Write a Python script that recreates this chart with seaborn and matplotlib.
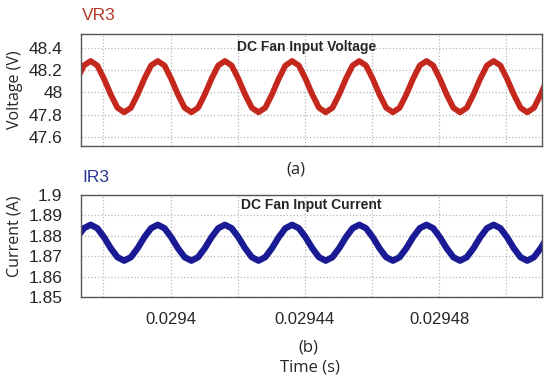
import matplotlib
matplotlib.use("Agg")
import matplotlib.pyplot as plt
import seaborn as sns
import pandas as pd
from matplotlib.ticker import MultipleLocator

# time samples (s)
time_s = [
    0.0293722, 0.0293742, 0.0293762, 0.0293782, 0.0293802, 0.0293822, 0.0293842, 0.0293862,
    0.0293882, 0.0293902, 0.0293922, 0.0293942, 0.0293962, 0.0293982, 0.0294002, 0.0294022,
    0.0294042, 0.0294062, 0.0294082, 0.0294102, 0.0294122, 0.0294142, 0.0294162, 0.0294182,
    0.0294202, 0.0294222, 0.0294242, 0.0294262, 0.0294282, 0.0294302, 0.0294322, 0.0294342,
    0.0294362, 0.0294382, 0.0294402, 0.0294422, 0.0294442, 0.0294462, 0.0294482, 0.0294502,
    0.0294522, 0.0294542, 0.0294562, 0.0294582, 0.0294602, 0.0294622, 0.0294642, 0.0294662,
    0.0294682, 0.0294702, 0.0294722, 0.0294742, 0.0294762, 0.0294782, 0.0294802, 0.0294822,
    0.0294842, 0.0294862, 0.0294882, 0.0294902, 0.0294922, 0.0294942, 0.0294962, 0.0294982,
    0.0295002, 0.0295022, 0.0295042, 0.0295062, 0.0295082, 0.0295102, 0.0295122,
]

# VR3 (V)
voltage = [
    48.12, 48.24,
    48.28, 48.24, 48.12, 47.98, 47.86, 47.82, 47.86, 47.98, 48.12, 48.24,
    48.28, 48.24, 48.12, 47.98, 47.86, 47.82, 47.86, 47.98, 48.12, 48.24,
    48.28, 48.24, 48.12, 47.98, 47.86, 47.82, 47.86, 47.98, 48.12, 48.24,
    48.28, 48.24, 48.12, 47.98, 47.86, 47.82, 47.86, 47.98, 48.12, 48.24,
    48.28, 48.24, 48.12, 47.98, 47.86, 47.82, 47.86, 47.98, 48.12, 48.24,
    48.28, 48.24, 48.12, 47.98, 47.86, 47.82, 47.86, 47.98, 48.12, 48.24,
    48.28, 48.24, 48.12, 47.98, 47.86, 47.82, 47.86, 47.98, 48.12,
]

# IR3 (A)
current = [
    1.8793, 1.8837,
    1.8854, 1.8837, 1.8793, 1.8739, 1.8695, 1.8678, 1.8695, 1.8739, 1.8793, 1.8837,
    1.8854, 1.8837, 1.8793, 1.8739, 1.8695, 1.8678, 1.8695, 1.8739, 1.8793, 1.8837,
    1.8854, 1.8837, 1.8793, 1.8739, 1.8695, 1.8678, 1.8695, 1.8739, 1.8793, 1.8837,
    1.8854, 1.8837, 1.8793, 1.8739, 1.8695, 1.8678, 1.8695, 1.8739, 1.8793, 1.8837,
    1.8854, 1.8837, 1.8793, 1.8739, 1.8695, 1.8678, 1.8695, 1.8739, 1.8793, 1.8837,
    1.8854, 1.8837, 1.8793, 1.8739, 1.8695, 1.8678, 1.8695, 1.8739, 1.8793, 1.8837,
    1.8854, 1.8837, 1.8793, 1.8739, 1.8695, 1.8678, 1.8695, 1.8739, 1.8793,
]

x_ticks = [0.0294, 0.02944, 0.02948]
x_labels = ["0.0294", "0.02944", "0.02948"]
v_ticks = [47.6, 47.8, 48.0, 48.2, 48.4]
v_labels = ["47.6", "47.8", "48", "48.2", "48.4"]
i_ticks = [1.85, 1.86, 1.87, 1.88, 1.89, 1.9]
i_labels = ["1.85", "1.86", "1.87", "1.88", "1.89", "1.9"]

sns.set_style("white")
plt.rcParams["font.family"] = ["Liberation Sans", "DejaVu Sans"]

df = pd.DataFrame({"t": time_s, "v": voltage, "i": current})

fig = plt.figure(figsize=(5.5, 3.81), dpi=100)
ax1 = fig.add_axes([0.1464, 0.6176, 0.8391, 0.2924])
ax2 = fig.add_axes([0.1464, 0.2205, 0.8391, 0.2677])

sns.lineplot(data=df, x="t", y="v", ax=ax1, color="#c4281c", linewidth=4.2)
sns.lineplot(data=df, x="t", y="i", ax=ax2, color="#1a1a94", linewidth=4.6)

xlim = (0.0293732, 0.0295106)
for ax in (ax1, ax2):
    ax.set_xlim(*xlim)
    ax.xaxis.set_minor_locator(MultipleLocator(0.00002))
    ax.set_xticks(x_ticks)
    ax.grid(True, which="both", axis="x", linestyle=":", color="#b8b8b8", linewidth=0.9)
    ax.grid(True, which="major", axis="y", linestyle=":", color="#b8b8b8", linewidth=0.9)
    ax.tick_params(which="both", length=0)
    ax.set_xlabel("")
    for s in ax.spines.values():
        s.set_color("#555555")
        s.set_linewidth(1.0)

ax1.set_xticklabels([])
ax2.set_xticklabels(x_labels, fontsize=12)
ax2.tick_params(axis="x", pad=11)

ax1.set_ylim(47.52, 48.52)
ax1.set_yticks(v_ticks)
ax1.set_yticklabels(v_labels, fontsize=12.5)
ax2.set_ylim(1.85, 1.9)
ax2.set_yticks(i_ticks)
ax2.set_yticklabels(i_labels, fontsize=12.5)
for ax in (ax1, ax2):
    ax.tick_params(axis="y", pad=13)

cal = ["Open Sans", "DejaVu Sans"]
ax1.set_ylabel("Voltage (V)", fontsize=11.5, family=cal)
ax1.yaxis.set_label_coords(-0.125, 0.5)
ax2.set_ylabel("Current (A)", fontsize=11.5, family=cal)
ax2.yaxis.set_label_coords(-0.125, 0.6)

ax1.text(0.489, 0.886, "DC Fan Input Voltage", transform=ax1.transAxes,
         ha="center", va="center", fontsize=10, fontweight="bold")
ax2.text(0.499, 0.9, "DC Fan Input Current", transform=ax2.transAxes,
         ha="center", va="center", fontsize=10, fontweight="bold")

fig.text(82 / 550, 1 - 15 / 381, "VR3", color="#b8382a", fontsize=12.5, ha="left", va="center")
fig.text(82 / 550, 1 - 177 / 381, "IR3", color="#2a3596", fontsize=12.5, ha="left", va="center")
fig.text(296 / 550, 1 - 170 / 381, "(a)", fontsize=12, ha="center", va="center", family=cal)
fig.text(308 / 550, 1 - 347 / 381, "(b)", fontsize=12, ha="center", va="center", family=cal)
fig.text(310 / 550, 1 - 367 / 381, "Time (s)", fontsize=12, ha="center", va="center", family=cal)

fig.savefig("out.png", dpi=100)
